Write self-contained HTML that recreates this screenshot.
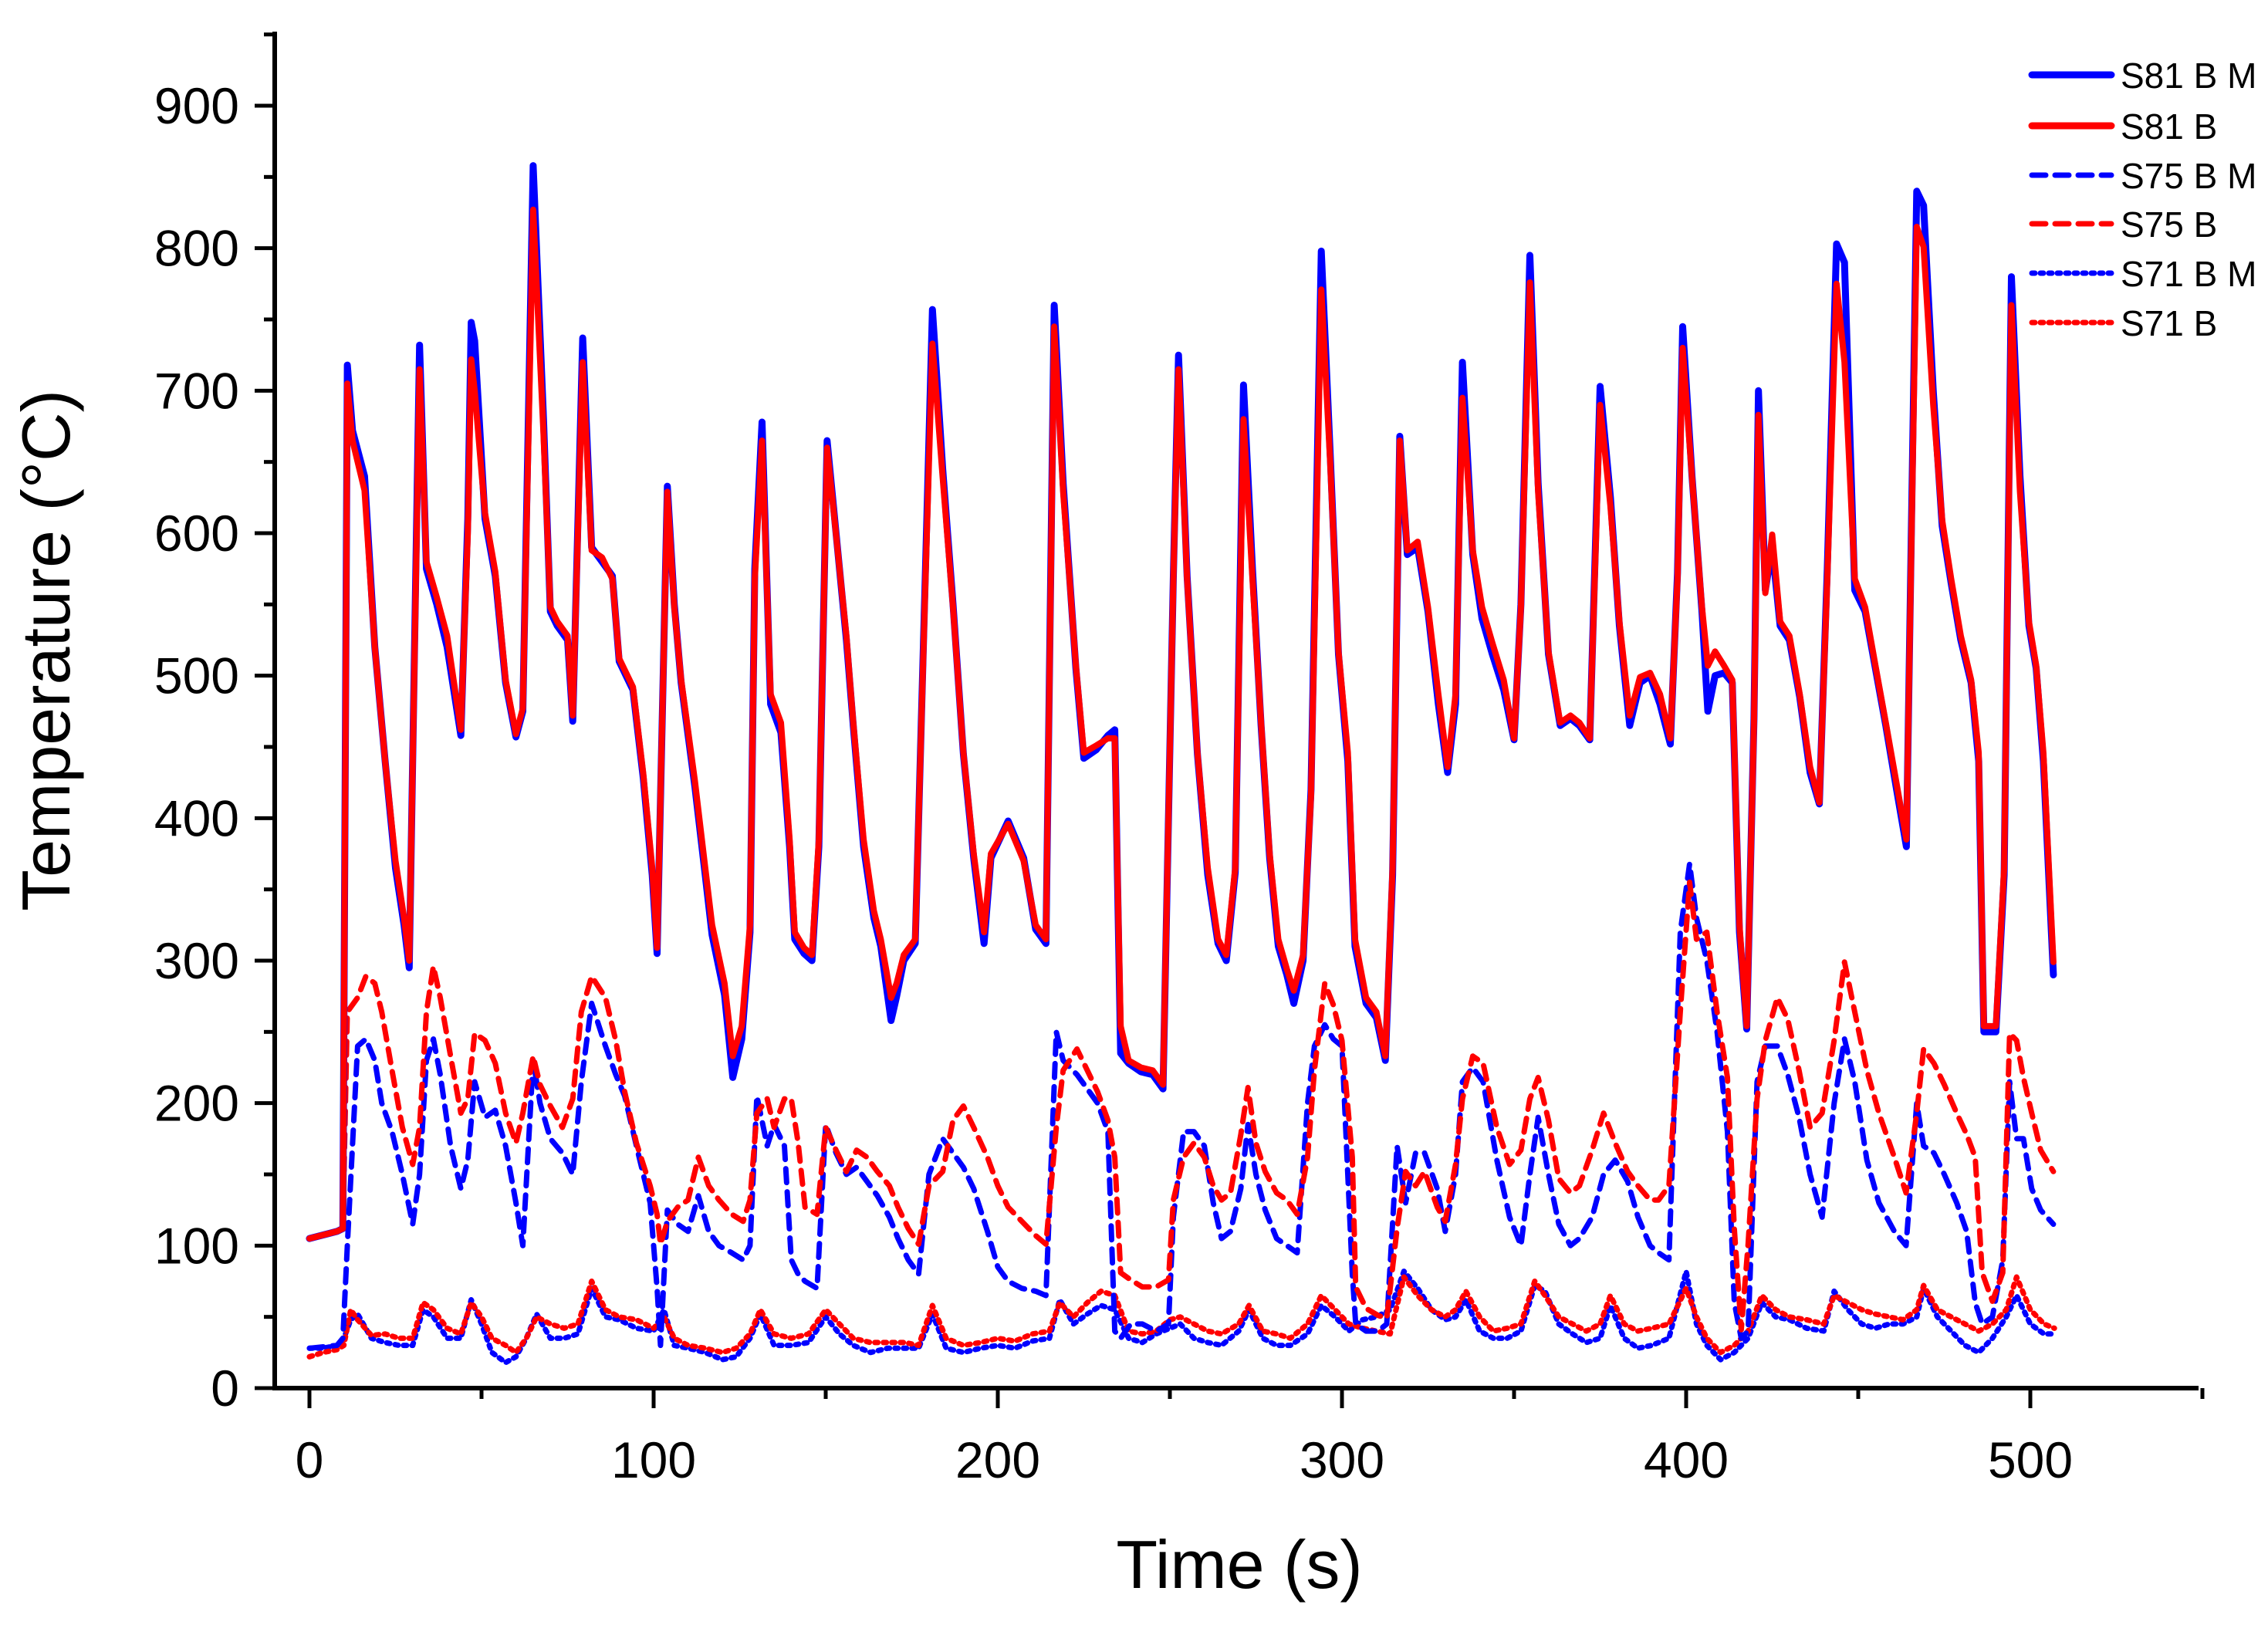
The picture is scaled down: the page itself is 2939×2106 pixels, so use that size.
<!DOCTYPE html>
<html><head><meta charset="utf-8"><style>
html,body{margin:0;padding:0;background:#fff;}
svg{display:block;font-family:"Liberation Sans",Arial,sans-serif;}
</style></head><body>
<svg id="chart" width="2939" height="2106" viewBox="0 0 2939 2106" xmlns="http://www.w3.org/2000/svg">
<g id="plot"></g>
<g id="axes"></g>
<text x="0" y="0" transform="translate(90,843) rotate(-90)" text-anchor="middle" font-size="88">Temperature (°C)</text>
<text x="1606" y="2058" text-anchor="middle" font-size="88">Time (s)</text>
<g id="legend"></g>
</svg>
<script>
const xTicks=[0,100,200,300,400,500];
const yTicks=[0,100,200,300,400,500,600,700,800,900];
const s81Time=[0,8,9.7,11,12.5,16,19,22,25,27.5,29,32,34,37,40,44,46,47,48,51,54,57,60,62,65,68,70,72,75,76.5,79.4,82,85,88,90,94,97,99.6,101,104,106,108,112,115,117,120.6,123,125.6,128,129.4,131.5,134,137,139.5,141,143.7,146,148,150.4,153,156,158,161,164,166,169,170.6,172.7,176,179,181,184,187,190,193,196,198,203,207.5,211,214,216.4,219,222.7,225,228.6,232,234,235.7,238,241.6,245,248,251,252.5,255,258,261,264,266.4,269,271.4,274,276.5,279,281.5,284,286,288.7,291,294,296.6,299,301.7,303.8,307,310,312.6,314.7,316.8,319,322,325,328,330.7,333,335,338,340.7,343.7,347,350,352,354.6,357,360,363.4,366.4,369,372,375,378,380.6,383.6,386.6,389.5,392.4,395.4,397.5,399,401.7,404.6,406.3,408.4,411,413.4,415.5,417.6,419.7,421,423,425,427.3,430,433,436,438.7,441,443.7,446,449,452,455,458,461,464,467,469,471.8,474.4,477,479.8,482.8,485,486.5,490,492.4,494.5,497,499.6,501.7,503.8,506.7];
const s81B=[105,110,112,705,665,630,520,440,370,330,300,715,580,555,528,462,600,722,700,614,573,497,459,477,827,670,548,538,528,472,720,588,583,568,512,492,431,365,309,629,548,497,426,365,325,284,233,254,325,568,665,487,467,385,320,309,304,385,660,599,528,467,385,335,315,274,284,304,315,568,733,639,548,446,375,320,375,396,370,325,315,745,629,507,446,451,456,456,254,230,225,223,213,568,715,568,446,365,315,304,365,680,568,467,375,315,294,279,304,416,771,649,517,446,315,274,264,233,365,665,588,594,548,487,436,487,695,588,548,523,497,456,548,776,629,517,467,472,467,456,690,619,538,472,499,502,487,456,568,730,639,548,507,517,507,497,325,254,467,683,558,599,538,528,487,436,411,568,775,720,568,548,507,467,426,385,815,801,690,609,568,528,497,446,254,254,365,760,629,538,507,446,299];
const s81BM=[105,110,112,718,672,640,520,440,365,325,295,732,575,550,520,458,610,748,735,610,570,495,457,475,858,680,545,535,525,468,737,590,580,570,510,490,428,360,305,633,550,495,422,360,318,276,218,245,320,575,678,480,460,380,315,305,300,380,665,600,525,465,380,330,310,258,275,300,312,575,757,645,550,445,372,312,372,398,372,322,312,760,635,505,442,448,458,462,235,228,222,220,210,570,725,570,445,360,312,300,362,704,575,465,372,310,290,270,300,420,798,655,515,440,310,270,260,230,360,668,585,590,545,480,432,480,720,585,540,515,490,455,550,795,635,515,465,470,465,455,703,625,535,465,495,500,480,452,572,745,640,545,475,500,502,495,320,252,470,700,560,590,535,525,485,432,410,575,803,790,560,545,505,465,422,380,840,830,700,605,565,525,495,440,250,250,360,780,640,535,505,440,290];
const s75Time=[0,8,9.7,11,14,16.4,19,21,24,27,30,32,34,36,38,41,44,46,48,51,54,57,60,62,65,67,70,73.5,76.5,79,82,86,89,91.6,95,99,101,102,104,107,110,113,116,119,122.7,126,128,130,133,135,138,140,142,144,147.5,150,153,156,159,162,165,168.5,171,174,177,180,184,187,190,193,197,200,203,207,211,214,217,219,223,226,229,232,234,235.7,238.6,242,246,249.6,251,254,257,260,262.6,265,267.6,270.6,272.7,275,277.7,281,284,287,290,292,295,297.5,300,303,304,307,310.5,313,316,318.5,321.4,324,327.7,330,333,335,338,341,345,348.7,352,354.6,357,360,363,366.4,369,372.7,376,379.4,383,386,389.5,392,395,398.3,401,403,406,409,412,414,416,418,420.6,423,426.5,429.5,432.8,436,439.5,443,446,449,452.5,456,460.5,463.9,467,469,472,475,478.6,481.5,484,486,489,492,494,496,498,500.4,503,506.7];
const s75B=[105,110,112,264,274,289,284,264,223,183,157,183,264,296,274,233,193,203,249,244,228,193,172,193,233,213,198,183,203,264,289,274,244,208,172,142,122,101,117,127,132,162,142,132,122,117,132,193,203,183,203,203,172,127,122,183,167,152,167,162,152,142,127,112,101,142,152,188,198,183,162,142,127,117,107,101,183,223,238,223,208,188,162,81,76,71,71,76,132,162,172,162,142,132,137,178,211,172,152,137,132,122,162,223,284,269,244,162,71,56,51,49,112,152,142,152,127,117,157,203,233,228,183,157,167,203,218,188,147,137,142,167,193,172,152,142,132,132,142,264,355,315,320,264,218,112,41,101,203,244,274,259,223,183,193,244,299,264,223,193,162,137,193,238,228,213,193,178,162,81,61,81,249,244,218,193,167,152];
const s75BM=[28,30,35,100,240,245,230,200,180,150,115,150,230,245,220,170,140,160,215,190,195,170,130,100,230,200,175,165,150,215,270,240,220,205,170,130,70,30,125,115,110,135,110,100,95,90,100,205,170,185,170,90,80,75,70,185,165,150,155,145,135,120,105,90,80,150,175,165,155,140,110,85,75,70,68,65,250,230,220,210,200,180,40,35,45,45,40,45,120,180,180,170,130,105,110,140,185,150,125,105,100,95,200,240,255,245,240,80,45,40,40,45,170,130,165,165,140,110,150,215,225,215,160,120,100,150,190,150,115,100,105,120,150,160,145,120,100,95,90,320,368,330,300,250,180,60,35,40,215,240,240,220,190,150,120,200,245,215,160,130,110,100,200,170,165,150,130,110,60,45,50,90,215,175,175,140,125,115];
const s71Time=[0,4,8,10,12,14,18,22,26,30,33,36,40,44,47,50,53,57,60,63,66,70,74,78,82,86,90,95,100,103,106,110,115,120,124,128,131,135,140,145,150,154,158,163,168,173,177,181,185,190,195,200,205,210,215,218,222,226,230,234,238,242,246,250,253,257,261,265,270,273,277,281,285,290,294,298,302,306,310,314,318,322,326,330,333,336,340,344,348,352,356,359,363,367,371,375,378,382,386,390,395,400,403,406,410,414,418,422,426,430,435,440,443,447,451,455,459,463,467,469,473,477,481,485,489,493,496,500,504,507];
const s71B=[22,25,27,30,55,48,37,38,35,35,60,55,42,38,60,50,35,30,25,35,50,45,42,45,75,55,50,48,42,50,35,30,28,25,28,38,55,38,35,38,55,45,35,32,32,32,30,58,35,30,32,35,33,38,40,60,50,60,68,65,40,38,40,48,50,45,40,38,45,58,40,38,35,45,65,55,45,42,40,38,78,65,55,50,55,68,50,40,42,45,75,65,50,45,40,45,65,45,40,42,45,70,50,35,25,30,40,65,55,50,48,45,65,60,55,52,50,48,55,72,55,50,45,40,45,55,78,55,45,42];
const s71BM=[28,28,30,35,48,52,35,32,30,30,55,50,35,35,62,45,25,18,22,35,52,35,35,38,70,50,48,42,40,55,30,28,25,20,22,35,52,30,30,32,50,38,30,25,28,28,28,52,28,25,28,30,28,33,35,62,45,52,58,55,35,32,38,42,45,35,32,30,40,55,35,30,30,38,58,50,40,48,50,55,82,70,55,48,50,62,40,35,35,40,72,68,45,38,32,35,58,35,28,30,35,82,45,30,20,25,35,60,50,48,42,40,68,55,45,42,45,45,50,70,50,40,30,25,35,50,65,45,38,38];

const NS="http://www.w3.org/2000/svg";
const X0=401,X1=2631,Y0=1799,Y1=137;
function sx(t){return X0+(t-0)*(X1-X0)/500;}
function sy(v){return Y0-(v-0)*(Y0-Y1)/900;}
function mk(tag,attrs,parent){const e=document.createElementNS(NS,tag);for(const k in attrs)e.setAttribute(k,attrs[k]);parent.appendChild(e);return e;}
const plot=document.getElementById('plot'),axes=document.getElementById('axes'),legend=document.getElementById('legend');
const BLUE="#0000ff",RED="#ff0000";
const series=[
 {name:"S81 B M",t:s81Time,v:s81BM,c:BLUE,w:9,d:"",key:"s81-b-m"},
 {name:"S81 B",t:s81Time,v:s81B,c:RED,w:8,d:"",key:"s81-b"},
 {name:"S75 B M",t:s75Time,v:s75BM,c:BLUE,w:7,d:"18 12",key:"s75-b-m"},
 {name:"S75 B",t:s75Time,v:s75B,c:RED,w:7,d:"18 12",key:"s75-b"},
 {name:"S71 B M",t:s71Time,v:s71BM,c:BLUE,w:7,d:"4 7",key:"s71-b-m"},
 {name:"S71 B",t:s71Time,v:s71B,c:RED,w:7,d:"4 7",key:"s71-b"}
];
const drawOrder=[4,5,2,3,0,1];
drawOrder.forEach(i=>{const s=series[i];
 const pts=s.t.map((t,j)=>sx(t).toFixed(1)+","+sy(s.v[j]).toFixed(1)).join(" ");
 const a={points:pts,fill:"none",stroke:s.c,"stroke-width":s.w,"stroke-linejoin":"round","stroke-linecap":"round"};
 if(s.d)a["stroke-dasharray"]=s.d;
 const p=mk('polyline',a,plot);
 
 
});
const xa=mk('line',{x1:356,y1:Y0,x2:2849,y2:Y0,stroke:"#000","stroke-width":6},axes);


const ya=mk('line',{x1:356,y1:Y0+3,x2:356,y2:41,stroke:"#000","stroke-width":6},axes);


for(let t=0;t<=550;t+=50){const maj=t%100===0;
 const tk=mk('line',{x1:sx(t),y1:Y0,x2:sx(t),y2:Y0+(maj?26:14),stroke:"#000","stroke-width":5},axes);
 
 }
xTicks.forEach(t=>{const tx=mk('text',{x:sx(t),y:1915,"text-anchor":"middle","font-size":66},axes);tx.textContent=t;
 
 });
for(let v=0;v<=950;v+=50){const maj=v%100===0;
 const tk=mk('line',{x1:356,y1:sy(v),x2:356-(maj?26:14),y2:sy(v),stroke:"#000","stroke-width":5},axes);
 
 }
yTicks.forEach(v=>{const tx=mk('text',{x:310,y:sy(v)+23,"text-anchor":"end","font-size":66},axes);tx.textContent=v;
 
 });
const legY=[97,163,227,290,354,418];
series.forEach((s,i)=>{const g=mk('g',{},legend);
 
 
 const a={x1:2633,y1:legY[i],x2:2736,y2:legY[i],stroke:s.c,"stroke-width":i<2?9:7,"stroke-linecap":"round"};
 if(s.d)a["stroke-dasharray"]=s.d;
 mk('line',a,g);
 const tx=mk('text',{x:2748,y:legY[i]+17,"font-size":46},g);tx.textContent=s.name;});
</script>
</body></html>
